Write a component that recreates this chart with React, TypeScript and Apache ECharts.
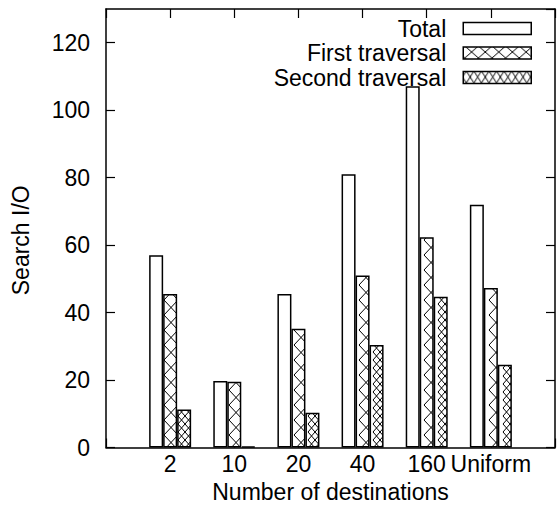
import React, { useEffect, useRef } from 'react';
import * as echarts from 'echarts';

// ---- data ----
const categories = ['2', '10', '20', '40', '160', 'Uniform'];
const seriesNames = ['Total', 'First traversal', 'Second traversal'];
const totalIO = [57.0, 19.7, 45.5, 81.0, 107.1, 72.0];
const firstTraversal = [45.5, 19.5, 35.2, 51.0, 62.3, 47.3];
const secondTraversal = [11.3, 0.3, 10.3, 30.4, 44.7, 24.5];
const yMin = 0;
const yMax = 130;
const yStep = 20;

// ---- layout / style ----
const fontFamily = "'Liberation Sans', Arial, Helvetica, sans-serif";
const fs = 23;
const gridLeft = 106;
const gridTop = 9;
const gridW = 455;
const gridH = 438.5;
const xMin = -1;
const xMax = 6;
const unit = gridW / (xMax - xMin);
const barW = 14;
const firstLeft = gridLeft + unit * (0 - xMin) - barW / 2;
const secondLeft = firstLeft + barW;
const legendIconLeft = 464;
const legendIconW = 68;
const legendIconH = 12;
const legendTop = 17;
const legendRow = 24.5;

function mod(a: number, b: number) {
  return ((a % b) + b) % b;
}

// A repeating tile of "X" cells, with its cells shifted so that they line up
// with marks placed at absolute page positions.
function crossTile(
  tileW: number,
  tileH: number,
  cellW: number,
  ox: number,
  oy: number,
  spanW: number,
  lw: number
): string {
  const c = document.createElement('canvas');
  c.width = Math.round(tileW);
  c.height = Math.round(tileH);
  const ctx = c.getContext('2d')!;
  ctx.fillStyle = '#fff';
  ctx.fillRect(0, 0, c.width, c.height);
  ctx.strokeStyle = '#000';
  ctx.lineWidth = lw;
  ctx.beginPath();
  const n = Math.round(spanW / cellW);
  for (const sx of [-tileW, 0, tileW]) {
    for (const sy of [-tileH, 0, tileH]) {
      for (let k = 0; k < n; k++) {
        const x0 = ox + k * cellW + sx;
        const x1 = x0 + cellW;
        const y0 = oy + sy;
        const y1 = y0 + tileH;
        ctx.moveTo(x0, y0);
        ctx.lineTo(x1, y1);
        ctx.moveTo(x1, y0);
        ctx.lineTo(x0, y1);
      }
    }
  }
  ctx.stroke();
  return c.toDataURL();
}

export default function App() {
  const ref = useRef<HTMLDivElement>(null);
  useEffect(() => {
    if (!ref.current) return;
    const chart = echarts.init(ref.current, undefined, { renderer: 'svg' });

    const iconTop = (k: number) => legendTop + fs / 2 - legendIconH / 2 + k * legendRow;

    const firstBarPattern: any = {
      image: crossTile(unit, 15, barW, mod(firstLeft, unit), 0, barW, 1),
      imageWidth: unit,
      imageHeight: 15,
      repeat: 'repeat',
    };
    const secondBarPattern: any = {
      image: crossTile(unit, 8, barW / 2, mod(secondLeft, unit), 0, barW, 1),
      imageWidth: unit,
      imageHeight: 8,
      repeat: 'repeat',
    };
    const firstLegendPattern: any = {
      image: crossTile(
        legendIconW, legendIconH, legendIconW / 5,
        mod(legendIconLeft, legendIconW), mod(iconTop(1), legendIconH), legendIconW, 1
      ),
      imageWidth: legendIconW,
      imageHeight: legendIconH,
      repeat: 'repeat',
    };
    const secondLegendPattern: any = {
      image: crossTile(
        legendIconW, legendIconH, legendIconW / 9,
        mod(legendIconLeft, legendIconW), mod(iconTop(2), legendIconH), legendIconW, 1
      ),
      imageWidth: legendIconW,
      imageHeight: legendIconH,
      repeat: 'repeat',
    };

    const border = { borderColor: '#000', borderWidth: 1.5 };
    const labelFont = { fontSize: fs, color: '#000', fontFamily };

    const xAxisBase = {
      type: 'value' as const,
      min: xMin,
      max: xMax,
      interval: 1,
      splitLine: { show: false },
      axisLine: { show: true, onZero: false, lineStyle: { color: '#000', width: 1.5 } },
      axisTick: { show: true, inside: true, length: 9, lineStyle: { color: '#000', width: 1.2 } },
    };
    const yAxisBase = {
      type: 'value' as const,
      min: yMin,
      max: yMax,
      interval: yStep,
      splitLine: { show: false },
      axisLine: { show: true, onZero: false, lineStyle: { color: '#000', width: 1.5 } },
      axisTick: { show: true, inside: true, length: 9, lineStyle: { color: '#000', width: 1.2 } },
    };

    chart.setOption({
      animation: false,
      backgroundColor: '#fff',
      textStyle: { fontFamily },
      grid: { left: gridLeft, top: gridTop, width: gridW, height: gridH, containLabel: false },
      legend: {
        orient: 'vertical',
        right: 558 - (legendIconLeft + legendIconW),
        top: legendTop,
        align: 'right',
        padding: 0,
        itemWidth: legendIconW,
        itemHeight: legendIconH,
        itemGap: legendRow - fs,
        selectedMode: false,
        textStyle: { ...labelFont, padding: [0, 12, 0, 0] },
        data: [
          { name: seriesNames[0], icon: 'rect', itemStyle: { color: '#fff', ...border } },
          { name: seriesNames[1], icon: 'rect', itemStyle: { color: firstLegendPattern, ...border } },
          { name: seriesNames[2], icon: 'rect', itemStyle: { color: secondLegendPattern, ...border } },
        ],
      },
      xAxis: [
        {
          ...xAxisBase,
          position: 'bottom',
          name: 'Number of destinations',
          nameLocation: 'middle',
          nameGap: 33,
          nameTextStyle: labelFont,
          axisLabel: {
            ...labelFont,
            margin: 5,
            formatter: (v: number) => categories[v] ?? '',
          },
        },
        {
          ...xAxisBase,
          position: 'top',
          axisLabel: { show: false },
        },
      ],
      yAxis: [
        {
          ...yAxisBase,
          position: 'left',
          name: 'Search I/O',
          nameLocation: 'middle',
          nameRotate: 90,
          nameGap: 74,
          nameTextStyle: { ...labelFont, padding: [0, 24, 0, 0] },
          axisLabel: {
            ...labelFont,
            margin: 16,
            showMaxLabel: false,
            formatter: (v: number) => (v % yStep === 0 ? String(v) : ''),
          },
        },
        {
          ...yAxisBase,
          position: 'right',
          axisLabel: { show: false },
        },
      ],
      series: [
        {
          name: seriesNames[0],
          type: 'bar',
          barWidth: barW,
          barGap: '0%',
          data: totalIO.map((v, i) => [i, v]),
          itemStyle: { color: '#fff', ...border },
        },
        {
          name: seriesNames[1],
          type: 'bar',
          barWidth: barW,
          barGap: '0%',
          data: firstTraversal.map((v, i) => [i, v]),
          itemStyle: { color: firstBarPattern, ...border },
        },
        {
          name: seriesNames[2],
          type: 'bar',
          barWidth: barW,
          barGap: '0%',
          data: secondTraversal.map((v, i) => [i, v]),
          itemStyle: { color: secondBarPattern, ...border },
        },
      ],
    });
    return () => chart.dispose();
  }, []);
  return (
    <div
      ref={ref}
      style={{ position: 'fixed', left: 0, top: 0, width: 558, height: 523, background: '#fff' }}
    />
  );
}
